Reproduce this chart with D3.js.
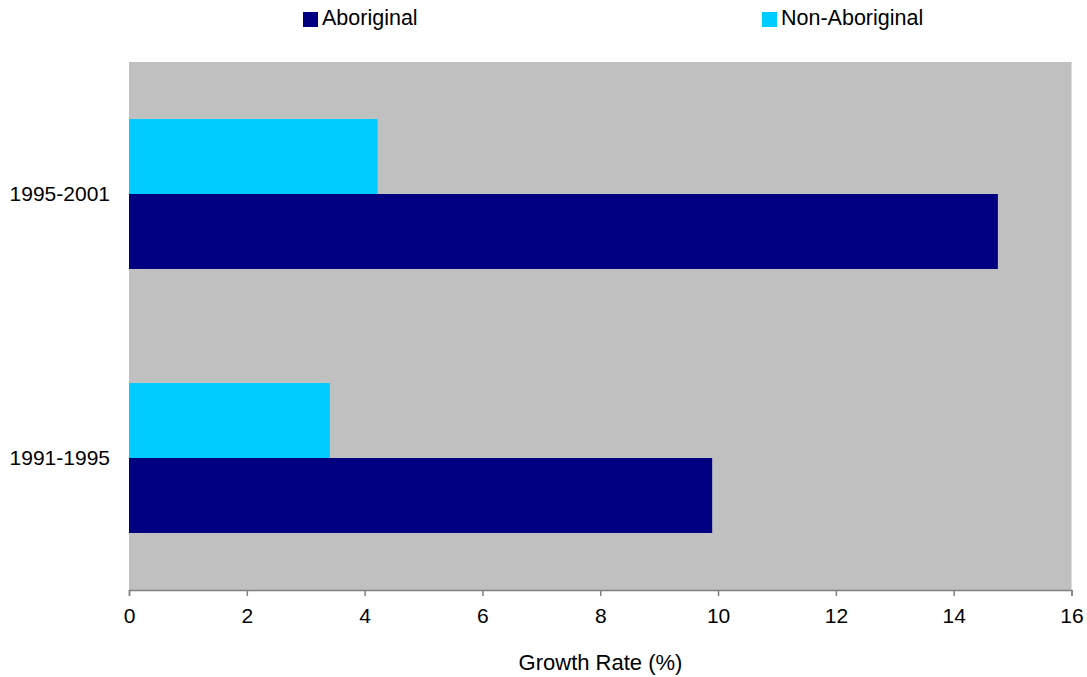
<!DOCTYPE html>
<html>
<head>
<meta charset="utf-8">
<script src="https://cdn.jsdelivr.net/npm/d3@7"></script>
<style>
  html, body { margin: 0; padding: 0; background: #fff; }
  svg { display: block; font-family: Arial, "Liberation Sans", sans-serif; }
</style>
</head>
<body>
<svg id="chart" width="1087" height="677"></svg>
<script>
const categories = ["1995-2001", "1991-1995"];
const seriesNames = ["Non-Aboriginal", "Aboriginal"];
const aboriginal = [14.75, 9.9];
const nonAboriginal = [4.22, 3.41];
const xTicks = [0, 2, 4, 6, 8, 10, 12, 14, 16];
const colors = { "Aboriginal": "#000080", "Non-Aboriginal": "#00CCFF" };

const svg = d3.select("#chart");
const plotLeft = 129, plotRight = 1071.5, plotTop = 62, plotBottom = 590;

const x = d3.scaleLinear().domain([0, 16]).range([plotLeft, plotRight]);
const y = d3.scaleBand().domain(categories).range([plotTop, plotBottom]).paddingInner(0.432).paddingOuter(0.216);
const ySub = d3.scaleBand().domain(seriesNames).range([0, y.bandwidth()]);

svg.append("rect").attr("x", plotLeft).attr("y", plotTop)
  .attr("width", plotRight - plotLeft).attr("height", plotBottom - plotTop).attr("fill", "#C0C0C0");

const series = { "Aboriginal": aboriginal, "Non-Aboriginal": nonAboriginal };
seriesNames.forEach(name => {
  svg.append("g").selectAll("rect").data(categories).join("rect")
    .attr("x", x(0))
    .attr("y", (c) => y(c) + ySub(name))
    .attr("width", (c, i) => x(series[name][i]) - x(0))
    .attr("height", ySub.bandwidth())
    .attr("fill", colors[name]);
});

// x axis
const xAxis = d3.axisBottom(x).tickValues(xTicks).tickFormat(d3.format("d")).tickSize(6).tickSizeOuter(6).tickPadding(12);
const gx = svg.append("g").attr("transform", `translate(0,${plotBottom})`).call(xAxis);
gx.select(".domain").attr("stroke", "#808080").attr("stroke-width", 1.5);
gx.selectAll(".tick line").attr("stroke", "#808080").attr("stroke-width", 1.5);
gx.selectAll(".tick text").attr("font-size", 21).attr("fill", "#000").attr("font-family", "Arial, 'Liberation Sans', sans-serif");

// y axis labels
const yAxis = d3.axisLeft(y).tickSize(0).tickPadding(19);
const gy = svg.append("g").attr("transform", `translate(${plotLeft},0)`).call(yAxis);
gy.select(".domain").remove();
gy.selectAll(".tick text").attr("font-size", 21).attr("fill", "#000").attr("font-family", "Arial, 'Liberation Sans', sans-serif");

// axis title
svg.append("text").attr("x", 600.5).attr("y", 670)
  .attr("text-anchor", "middle").attr("font-size", 22).attr("fill", "#000")
  .text("Growth Rate (%)");

// legend
const legendItems = [
  { name: "Aboriginal", x: 303 },
  { name: "Non-Aboriginal", x: 762 }
];
const lg = svg.append("g").selectAll("g").data(legendItems).join("g")
  .attr("transform", d => `translate(${d.x},0)`);
lg.append("rect").attr("x", 0).attr("y", 12).attr("width", 15).attr("height", 15)
  .attr("fill", d => colors[d.name]);
lg.append("text").attr("x", 19).attr("y", 25).attr("font-size", 21.5).attr("fill", "#000")
  .text(d => d.name);
</script>
</body>
</html>
